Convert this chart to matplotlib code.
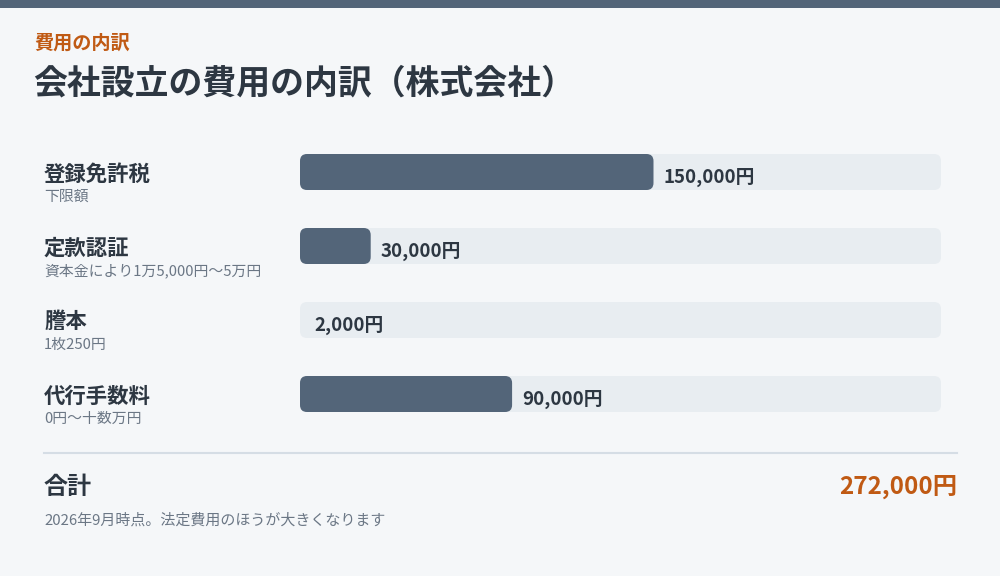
import matplotlib
matplotlib.use("Agg")
import matplotlib.pyplot as plt
from matplotlib.patches import FancyBboxPatch, Rectangle

plt.rcParams['font.family'] = ['Noto Sans CJK JP', 'DejaVu Sans']

# data
items = ['登録免許税', '定款認証', '謄本', '代行手数料']
notes = ['下限額', '資本金により1万5,000円〜5万円', '1枚250円', '0円〜十数万円']
costs = [150000, 30000, 2000, 90000]
total = sum(costs)

# colours
BG = '#f5f7f9'
DARK = '#2d3742'
SLATE = '#536579'
TRACK = '#e8edf1'
ORANGE = '#c05a14'
GREY = '#6b7785'

W, H = 1000, 576
fig = plt.figure(figsize=(W / 100, H / 100), dpi=100, facecolor=BG)


def fx(x):
    return x / W


def fy(y):
    return 1 - y / H


# top stripe
fig.patches.append(Rectangle((0, fy(8)), 1, 8 / H, transform=fig.transFigure,
                             facecolor=SLATE, edgecolor='none'))

fig.text(fx(34), fy(43), '費用の内訳', fontsize=13.8, fontweight='bold',
         color=ORANGE, va='center')
fig.text(fx(33), fy(83), '会社設立の費用の内訳（株式会社）', fontsize=24.4,
         fontweight='bold', color=DARK, va='center')

# bar area
track_l, track_r = 300, 941
row_top, pitch, bar_h = 154, 74, 36
n = len(items)
area_top = row_top
area_bot = row_top + (n - 1) * pitch + bar_h
half = bar_h / 2 / pitch
ax = fig.add_axes([fx(track_l), fy(area_bot), (track_r - track_l) / W,
                   (area_bot - area_top) / H])
ax.set_xlim(0, total)
ax.set_ylim(n - 1 + half, -half)
ax.axis('off')

x_per_px = total / (track_r - track_l)
y_per_px = 1 / pitch
radius = 7

for i, (name, note, v) in enumerate(zip(items, notes, costs)):
    ax.add_patch(FancyBboxPatch((0, i - half), total, 2 * half,
                                boxstyle=f'round,pad=0,rounding_size={radius * x_per_px}',
                                mutation_aspect=y_per_px / x_per_px,
                                facecolor=TRACK, edgecolor='none'))
    if v / x_per_px > 2 * radius:
        ax.add_patch(FancyBboxPatch((0, i - half), v, 2 * half,
                                    boxstyle=f'round,pad=0,rounding_size={radius * x_per_px}',
                                    mutation_aspect=y_per_px / x_per_px,
                                    facecolor=SLATE, edgecolor='none'))
    ax.text(v + 10 * x_per_px, i + 5 * y_per_px, f'{v:,}円', fontsize=13.5,
            fontweight='bold', color=DARK, va='center', ha='left')

    yc = row_top + i * pitch + bar_h / 2
    fig.text(fx(44), fy(yc + 2), name, fontsize=15.4, fontweight='bold',
             color=DARK, va='center')
    fig.text(fx(44), fy(yc + 25), note, fontsize=10.7, color=GREY, va='center')

# separator and total
fig.add_artist(plt.Line2D([fx(44), fx(957)], [fy(453), fy(453)],
                          color='#d5dde5', linewidth=1.5))
fig.text(fx(44), fy(487), '合計', fontsize=17.3, fontweight='bold',
         color=DARK, va='center')
fig.text(fx(957), fy(487), f'{total:,}円', fontsize=17.5, fontweight='bold',
         color=ORANGE, va='center', ha='right')
fig.text(fx(44), fy(520), '2026年9月時点。法定費用のほうが大きくなります',
         fontsize=10.8, color=GREY, va='center')

fig.savefig('out.png', dpi=100, facecolor=BG)
